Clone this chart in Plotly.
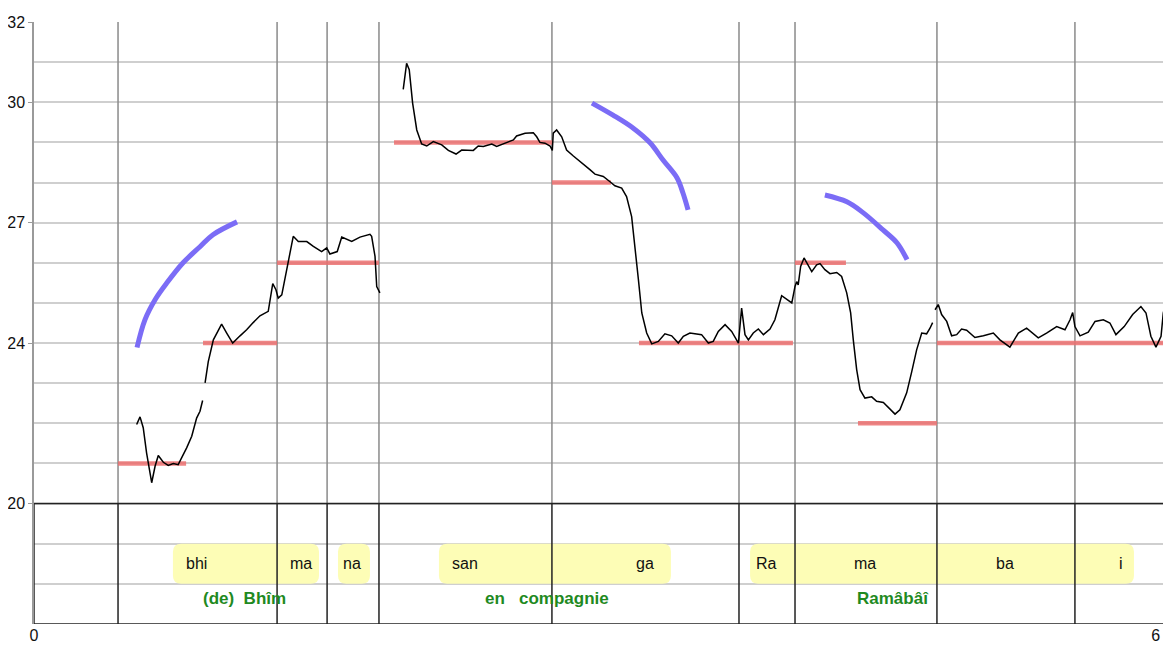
import plotly.graph_objects as go

# hauteur mesurée (courbe noire), None = coupure
pitch_t = [0.546, 0.564, 0.581, 0.599, 0.626, 0.644, 0.661, 0.688, 0.714, 0.741, 0.767, 0.786, 0.812,
           0.839, 0.865, 0.883, 0.897, None,
           0.910, 0.927, 0.954, 0.998, 1.025, 1.057, 1.096, 1.131, 1.166, 1.202, 1.246, 1.270, 1.287,
           1.299, 1.318, 1.340, 1.358, 1.379, 1.406, 1.451, 1.486, 1.530, 1.557, 1.574, 1.613, 1.637,
           1.690, 1.734, 1.787, 1.796, 1.814, 1.823, 1.840, None,
           1.964, 1.982, 1.996, 2.014, 2.036, 2.062, 2.089, 2.124, 2.169, 2.204, 2.245, 2.275, 2.337,
           2.363, 2.390, 2.435, 2.461, 2.505, 2.532, 2.550, 2.567, 2.612, 2.656, 2.674, 2.691, 2.718,
           2.745, 2.757, 2.762, 2.780, 2.807, 2.833, 2.869, 2.913, 2.957, 2.984, 3.028, 3.064, 3.090,
           3.126, 3.152, 3.179, 3.197, 3.215, 3.233, 3.259, 3.286, 3.321, 3.356, 3.392, 3.427, 3.454,
           3.489, 3.551, 3.587, 3.613, 3.640, 3.676, 3.711, 3.747, 3.764, 3.782, 3.800, 3.826, 3.853,
           3.880, 3.915, 3.941, 3.977, 3.995, 4.031, 4.048, 4.057, 4.065, 4.078, 4.096, 4.110, 4.137,
           4.163, 4.181, 4.207, 4.234, 4.270, 4.296, 4.323, 4.344, 4.358, 4.376, 4.394, 4.420, 4.456,
           4.482, 4.518, 4.553, 4.580, 4.606, 4.642, 4.669, 4.695, 4.722, 4.748, 4.766, 4.780, None,
           4.793, 4.810, 4.828, 4.855, 4.881, 4.908, 4.934, 4.961, 5.005, 5.050, 5.103, 5.138, 5.191,
           5.236, 5.280, 5.342, 5.386, 5.440, 5.484, 5.511, 5.525, 5.537, 5.564, 5.608, 5.644, 5.688,
           5.723, 5.755, 5.799, 5.844, 5.888, 5.915, 5.941, 5.968, 5.995, 6.007, 6.030, 6.046]
pitch_v = [21.97, 22.16, 21.89, 21.26, 20.52, 20.93, 21.20, 21.03, 20.95, 21.00, 20.97, 21.14, 21.39,
           21.68, 22.13, 22.30, 22.57, None,
           23.01, 23.54, 24.08, 24.47, 24.25, 24.00, 24.18, 24.33, 24.51, 24.68, 24.79, 25.48, 25.33,
           25.12, 25.20, 25.74, 26.12, 26.66, 26.53, 26.53, 26.41, 26.28, 26.37, 26.22, 26.28, 26.64,
           26.53, 26.64, 26.71, 26.66, 26.16, 25.41, 25.25, None,
           30.32, 30.97, 30.81, 29.98, 29.31, 28.96, 28.91, 29.02, 28.94, 28.80, 28.71, 28.81, 28.80,
           28.91, 28.90, 28.96, 28.90, 28.98, 29.02, 29.06, 29.16, 29.23, 29.24, 29.14, 29.00, 28.98,
           28.91, 28.80, 29.23, 29.31, 29.14, 28.81, 28.66, 28.50, 28.32, 28.21, 28.15, 28.02, 27.92,
           27.86, 27.65, 27.15, 26.41, 25.58, 24.75, 24.25, 23.98, 24.04, 24.23, 24.18, 24.00, 24.17,
           24.25, 24.21, 24.00, 24.04, 24.29, 24.46, 24.29, 24.00, 24.87, 24.21, 24.08, 24.25, 24.35,
           24.21, 24.35, 24.58, 25.18, 25.12, 25.00, 25.41, 25.53, 25.45, 25.91, 26.12, 26.00, 25.78,
           25.95, 25.98, 25.83, 25.73, 25.76, 25.66, 25.25, 24.75, 24.08, 23.34, 22.84, 22.63, 22.66,
           22.55, 22.52, 22.36, 22.23, 22.34, 22.76, 23.29, 23.83, 24.25, 24.23, 24.37, 24.51, None,
           24.83, 24.96, 24.71, 24.54, 24.18, 24.21, 24.35, 24.32, 24.14, 24.18, 24.25, 24.08, 23.90,
           24.25, 24.37, 24.13, 24.25, 24.41, 24.33, 24.58, 24.76, 24.41, 24.18, 24.27, 24.54, 24.58,
           24.50, 24.21, 24.41, 24.71, 24.91, 24.75, 24.17, 23.90, 24.17, 24.75, 25.16, 25.04]

# notes cibles (segments rouges)
note_start = [0.447, 0.899, 1.293, 1.915, 2.755, 3.218, 4.048, 4.383, 4.803]
note_end = [0.809, 1.293, 1.835, 2.755, 3.069, 4.037, 4.319, 4.803, 6.048]
note_pitch = [21, 24, 26, 29, 28, 24, 26, 22, 24]

# courbes d'intonation (tracé bleu)
contour_t = [0.548, 0.590, 0.644, 0.707, 0.793, 0.883, 0.952, 1.080, None,
             2.968, 3.080, 3.186, 3.277, 3.346, 3.420, 3.452, 3.479, None,
             4.207, 4.324, 4.410, 4.516, 4.590, 4.644]
contour_v = [23.89, 24.58, 25.08, 25.50, 26.00, 26.40, 26.70, 27.02, None,
             29.98, 29.68, 29.36, 28.99, 28.56, 28.12, 27.74, 27.32, None,
             27.69, 27.52, 27.25, 26.82, 26.50, 26.08]

# frontières de syllabes
bounds = [0.447, 1.293, 1.559, 1.835, 2.755, 3.750, 4.048, 4.803, 5.537]

# syllabes
syl_text = ["bhi", "ma", "na", "san", "ga", "Ra", "ma", "ba", "i"]
syl_t = [0.867, 1.420, 1.691, 2.293, 3.250, 3.894, 4.420, 5.165, 5.782]
box_start = [0.739, 1.617, 2.154, 3.809]
box_end = [1.516, 1.787, 3.388, 5.851]

# traduction
words = ["(de)  Bhîm", "en   compagnie", "Ramâbâî"]
words_t = [1.120, 2.729, 4.569]

x_max = 6.048
grid_vals = list(range(17, 33))

fig = go.Figure()

nx, ny = [], []
for a, b, p in zip(note_start, note_end, note_pitch):
    nx += [a, b, None]
    ny += [p, p, None]
fig.add_trace(go.Scatter(x=nx, y=ny, mode="lines",
                         line=dict(color="rgba(236,112,112,0.85)", width=4.5),
                         hoverinfo="skip"))

fig.add_trace(go.Scatter(x=pitch_t, y=pitch_v, mode="lines",
                         line=dict(color="black", width=1.5), connectgaps=False))

fig.add_trace(go.Scatter(x=contour_t, y=contour_v, mode="lines",
                         line=dict(color="#7b6cf6", width=5, shape="spline"),
                         connectgaps=False))

shapes = []
# boîtes jaunes arrondies
rx, ry = 0.045, 0.2
for a, b in zip(box_start, box_end):
    y0, y1 = 18.0, 19.0
    path = (f"M {a+rx},{y0} L {b-rx},{y0} Q {b},{y0} {b},{y0+ry} L {b},{y1-ry} "
            f"Q {b},{y1} {b-rx},{y1} L {a+rx},{y1} Q {a},{y1} {a},{y1-ry} "
            f"L {a},{y0+ry} Q {a},{y0} {a+rx},{y0} Z")
    shapes.append(dict(type="path", path=path, fillcolor="#fdfdb6",
                       line=dict(width=0), layer="between"))

for b in bounds:
    shapes.append(dict(type="line", x0=b, x1=b, y0=20, y1=32,
                       line=dict(color="#8a8a8a", width=1.5), layer="between"))
    shapes.append(dict(type="line", x0=b, x1=b, y0=17, y1=20,
                       line=dict(color="#222222", width=1.5), layer="between"))
for yv in [17, 20]:
    shapes.append(dict(type="line", x0=0, x1=x_max, y0=yv, y1=yv,
                       line=dict(color="#222222", width=1.5), layer="between"))
shapes.append(dict(type="line", x0=0, x1=0, y0=17, y1=20,
                   line=dict(color="#222222", width=1.5), layer="between"))

annotations = []
for s, t in zip(syl_text, syl_t):
    annotations.append(dict(x=t, y=18.5, text=s, showarrow=False,
                            font=dict(size=16, color="#111111", family="Liberation Sans")))
for w, t in zip(words, words_t):
    annotations.append(dict(x=t, y=17.64, text="<b>" + w.replace("  ", "&nbsp; ") + "</b>",
                            showarrow=False,
                            font=dict(size=17, color="#1f8a1f", family="Liberation Sans")))

# la page ajoute une marge de 8 px autour de la figure
fig.update_layout(
    width=1163, height=638,
    margin=dict(l=26, r=0, t=14, b=22),
    paper_bgcolor="white", plot_bgcolor="white",
    showlegend=False,
    shapes=shapes, annotations=annotations,
    font=dict(family="Liberation Sans", size=16, color="#111111"),
)
fig.update_xaxes(range=[0, x_max], tickvals=[0, 6], ticktext=["0", "6 s"],
                 showgrid=False, zeroline=False, showline=False, ticks="",
                 automargin=False, ticklabeloverflow="allow",
                 tickfont=dict(size=16))
fig.update_yaxes(range=[17, 32], tickvals=[20, 24, 27, 30, 32],
                 showgrid=False, zeroline=False, automargin=False,
                 showline=True, linecolor="#9a9a9a", linewidth=1.5,
                 ticks="outside", ticklen=4, tickcolor="#9a9a9a",
                 minor=dict(tickvals=grid_vals, showgrid=True, gridcolor="#cfcfcf",
                            gridwidth=1.5, ticks=""),
                 tickfont=dict(size=16))

fig.write_html("out.html")
